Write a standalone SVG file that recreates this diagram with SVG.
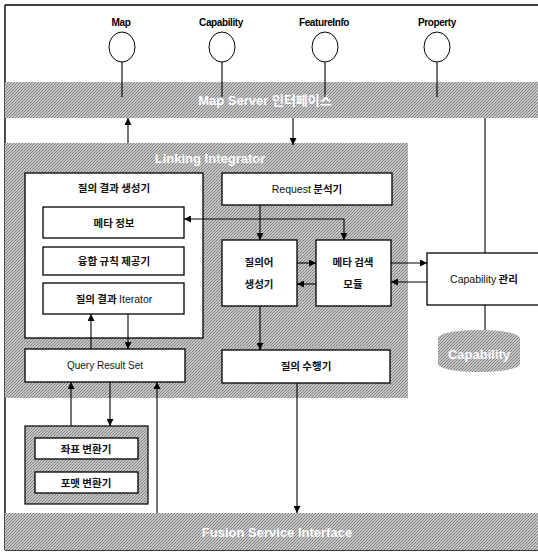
<svg xmlns="http://www.w3.org/2000/svg" width="538" height="553" viewBox="0 0 538 553">
<defs>
<pattern id="dith" width="3" height="3" patternUnits="userSpaceOnUse">
<rect width="3" height="3" fill="#c6c6c6"/>
<rect x="0" y="0" width="1" height="1" fill="#7a7a7a"/>
<rect x="2" y="1" width="1" height="1" fill="#8a8a8a"/>
<rect x="1" y="2" width="1" height="1" fill="#7f7f7f"/>
</pattern>
<marker id="ah" viewBox="0 0 10 10" refX="10" refY="5" markerWidth="7" markerHeight="7" orient="auto-start-reverse" markerUnits="userSpaceOnUse">
<path d="M0,0 L10,5 L0,10 Z" fill="#000"/>
</marker>
<style>
.box{fill:#fff;stroke:#000;stroke-width:1.3}
.band{fill:url(#dith)}
.t{font-family:"Noto Sans CJK KR","Liberation Sans",sans-serif;font-size:10.5px;font-weight:bold;fill:#111;text-anchor:middle}
.n{font-family:"Liberation Sans",sans-serif;font-weight:normal}
.e{font-family:"Liberation Sans","Noto Sans CJK KR",sans-serif;font-size:10px;fill:#111;text-anchor:middle}
.lbl{font-family:"Liberation Sans",sans-serif;font-size:10px;font-weight:bold;fill:#000;text-anchor:middle;letter-spacing:-0.4px}
.w{font-family:"Liberation Sans","Noto Sans CJK KR",sans-serif;font-size:13px;font-weight:bold;fill:#fff;text-anchor:middle}
.ln{fill:none;stroke:#000;stroke-width:1.1}
.a{fill:none;stroke:#000;stroke-width:1.1;marker-end:url(#ah)}
</style>
</defs>
<rect width="538" height="553" fill="#fff"/>
<g id="frame">
<path d="M5,5 H538 M5,5 V550 M5,550 H538" fill="none" stroke="#000" stroke-width="1.4"/>
</g>
<g id="map-server">
<rect class="band" x="5" y="82" width="533" height="36"/>
<text class="w" x="265" y="105">Map Server 인터페이스</text>
</g>
<g id="if-map"><ellipse cx="122" cy="47" rx="13" ry="15" fill="#fff" stroke="#000" stroke-width="1"/><line class="ln" x1="122" y1="62" x2="122" y2="97"/><text class="lbl" x="121" y="26">Map</text></g>
<g id="if-capability"><ellipse cx="222" cy="47" rx="13" ry="15" fill="#fff" stroke="#000" stroke-width="1"/><line class="ln" x1="222" y1="62" x2="222" y2="97"/><text class="lbl" x="221" y="26">Capability</text></g>
<g id="if-featureinfo"><ellipse cx="325" cy="47" rx="13" ry="15" fill="#fff" stroke="#000" stroke-width="1"/><line class="ln" x1="325" y1="62" x2="325" y2="97"/><text class="lbl" x="324" y="26">FeatureInfo</text></g>
<g id="if-property"><ellipse cx="437" cy="47" rx="13" ry="15" fill="#fff" stroke="#000" stroke-width="1"/><line class="ln" x1="437" y1="62" x2="437" y2="97"/><text class="lbl" x="437" y="26">Property</text></g>
<g id="linking-integrator">
<rect class="band" x="5" y="143" width="403" height="255"/>
<text class="w" x="210" y="163">Linking Integrator</text>
</g>
<g id="result-generator">
<rect class="box" x="25" y="173" width="178" height="165"/>
<text class="t" x="114" y="192">질의 결과 생성기</text>
</g>
<g id="meta-info"><rect class="box" x="43" y="207" width="141" height="31"/><text class="t" x="114" y="227">메타 정보</text></g>
<g id="fusion-rule"><rect class="box" x="43" y="247" width="141" height="28"/><text class="t" x="114" y="265">융합 규칙 제공기</text></g>
<g id="result-iterator"><rect class="box" x="43" y="283" width="141" height="31"/><text class="t" x="114" y="303">질의 결과 <tspan class="n">Iterator</tspan></text></g>
<g id="request-analyzer"><rect class="box" x="222" y="173" width="170" height="32"/><text class="t" x="307" y="193"><tspan class="n">Request</tspan> 분석기</text></g>
<g id="query-generator"><rect class="box" x="222" y="240" width="75" height="66"/><text class="t" x="259" y="266">질의어</text><text class="t" x="259" y="288">생성기</text></g>
<g id="meta-search"><rect class="box" x="316" y="240" width="75" height="66"/><text class="t" x="353" y="266">메타 검색</text><text class="t" x="353" y="288">모듈</text></g>
<g id="query-result-set"><rect class="box" x="25" y="349" width="160" height="33"/><text class="e" x="105" y="369">Query Result Set</text></g>
<g id="query-executor"><rect class="box" x="222" y="350" width="168" height="33"/><text class="t" x="306" y="370">질의 수행기</text></g>
<g id="capability-manager"><rect class="box" x="427" y="253" width="115" height="52"/><text class="t" x="484" y="283"><tspan class="n">Capability</tspan> 관리</text></g>
<g id="capability-db">
<path d="M438,338 A41,8 0 0 1 520,338 V364 A41,8 0 0 1 438,364 Z" fill="url(#dith)"/>
<text class="w" x="479" y="359" font-size="12">Capability</text>
</g>
<g id="converters">
<rect x="25" y="426" width="123" height="78" fill="url(#dith)" stroke="#000" stroke-width="1.2"/>
<rect class="box" x="35" y="438" width="103" height="21"/><text class="t" x="86" y="453">좌표 변환기</text>
<rect class="box" x="35" y="472" width="103" height="21"/><text class="t" x="86" y="487">포맷 변환기</text>
</g>
<g id="fusion-service">
<rect class="band" x="5" y="513" width="533" height="37"/>
<text class="w" x="277" y="537">Fusion Service Interface</text>
</g>
<g id="connectors">
<path class="a" d="M128,143 V118"/>
<path class="a" d="M293,118 V145"/>
<path class="ln" d="M485,118 V253"/>
<path class="ln" d="M485,305 V330"/>
<path class="a" d="M260,205 V240"/>
<path class="a" style="marker-start:url(#ah)" d="M184,219 H344 V240"/>
<path class="a" d="M297,263 H316"/>
<path class="a" d="M316,284 H297"/>
<path class="a" d="M391,263 H427"/>
<path class="a" d="M427,282 H391"/>
<path class="a" d="M260,306 V350"/>
<path class="a" d="M91,349 V314"/>
<path class="a" d="M128,314 V349"/>
<path class="a" d="M71,426 V382"/>
<path class="a" d="M110,382 V426"/>
<path class="a" d="M157,513 V382"/>
<path class="a" d="M297,383 V513"/>
</g>
</svg>
